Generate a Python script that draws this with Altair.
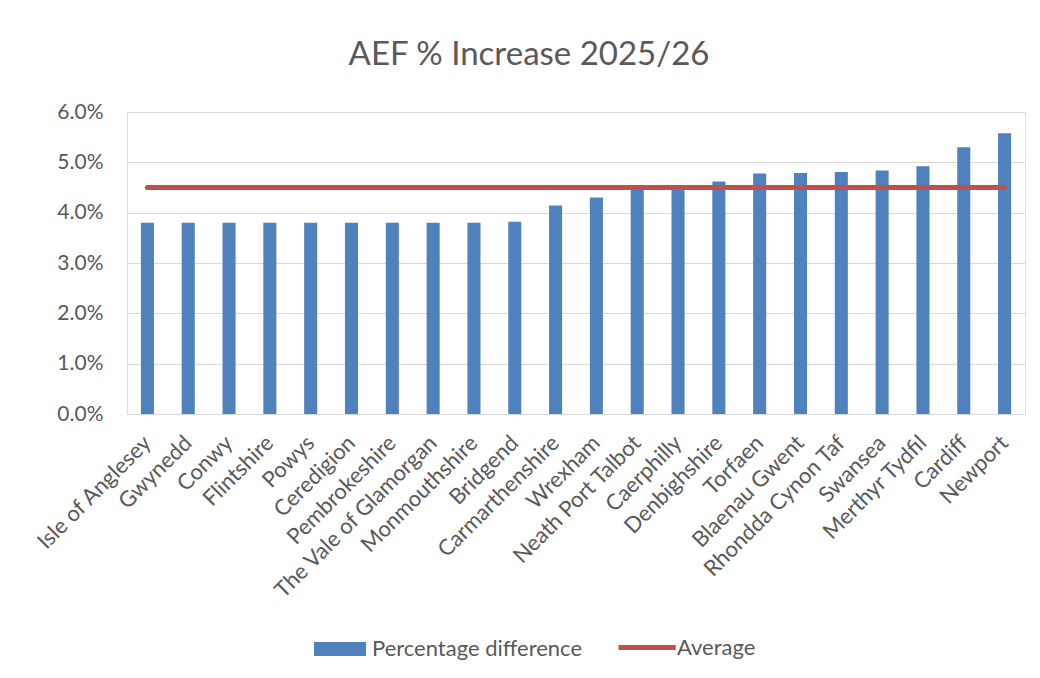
import altair as alt
import pandas as pd

# Local authorities, ordered by their AEF percentage increase
categories = [
    "Isle of Anglesey", "Gwynedd", "Conwy", "Flintshire", "Powys",
    "Ceredigion", "Pembrokeshire", "The Vale of Glamorgan", "Monmouthshire",
    "Bridgend", "Carmarthenshire", "Wrexham", "Neath Port Talbot",
    "Caerphilly", "Denbighshire", "Torfaen", "Blaenau Gwent",
    "Rhondda Cynon Taf", "Swansea", "Merthyr Tydfil", "Cardiff", "Newport",
]
pct_difference = [
    0.0380, 0.0380, 0.0380, 0.0380, 0.0380,
    0.0380, 0.0380, 0.0380, 0.0380,
    0.0382, 0.0414, 0.0430, 0.0448,
    0.0449, 0.0462, 0.0478, 0.0479,
    0.0481, 0.0484, 0.0492, 0.0530, 0.0558,
]
average = 0.045

y_ticks = [0.0, 0.01, 0.02, 0.03, 0.04, 0.05, 0.06]

BLUE = "#4F81BD"
RED = "#C0504D"
TEXT = "#595959"
GRID = "#D9D9D9"
FONT = "Lato"

df = pd.DataFrame({"Authority": categories, "Value": pct_difference})
df["Average"] = average
df["BarSeries"] = "Percentage difference"
df["LineSeries"] = "Average"

x_enc = alt.X(
    "Authority:N",
    sort=categories,
    title=None,
    scale=alt.Scale(paddingInner=0.68),
    axis=alt.Axis(
        labelAngle=-45,
        labelAlign="right",
        labelBaseline="middle",
        labelFontSize=22,
        labelColor=TEXT,
        labelFont=FONT,
        labelPadding=25,
        ticks=False,
        grid=False,
        domainColor=GRID,
        domainWidth=1,
        labelLimit=400,
    ),
)

legend_common = dict(
    title=None,
    orient="none",
    direction="horizontal",
    symbolSize=676,
    labelFontSize=22,
    labelColor=TEXT,
    labelFont=FONT,
    labelLimit=400,
    padding=0,
)

bars = alt.Chart(df).mark_bar().encode(
    x=x_enc,
    y=alt.Y(
        "Value:Q",
        title=None,
        scale=alt.Scale(domain=[0, 0.06], nice=False),
        axis=alt.Axis(
            values=y_ticks,
            format=".1%",
            labelFontSize=21,
            labelColor=TEXT,
            labelFont=FONT,
            labelPadding=24,
            ticks=False,
            domain=False,
            gridColor=GRID,
            gridWidth=1,
        ),
    ),
    color=alt.Color(
        "BarSeries:N",
        scale=alt.Scale(domain=["Percentage difference"], range=[BLUE]),
        legend=alt.Legend(
            legendX=187,
            legendY=524,
            symbolType="M-1,-0.54H3V0.54H-1Z",
            symbolStrokeWidth=0,
            symbolOpacity=1,
            labelOffset=32,
            **legend_common,
        ),
    ),
)

avg_line = alt.Chart(df).mark_line(strokeWidth=5, strokeCap="round").encode(
    x=alt.X("Authority:N", sort=categories),
    y=alt.Y("Average:Q"),
    stroke=alt.Stroke(
        "LineSeries:N",
        scale=alt.Scale(domain=["Average"], range=[RED]),
        legend=alt.Legend(
            legendX=489,
            legendY=520,
            symbolType="M-1,0H3.4",
            symbolStrokeWidth=5,
            symbolOpacity=1,
            labelOffset=30,
            **legend_common,
        ),
    ),
)

chart = (
    alt.layer(bars, avg_line)
    .resolve_legend(color="independent", stroke="independent")
    .properties(
        width=898,
        height=302,
        title=alt.TitleParams(
            "AEF % Increase 2025/26",
            fontSize=33,
            font=FONT,
            fontWeight="normal",
            color=TEXT,
            anchor="middle",
            dx=-47,
            offset=29,
        ),
        autosize=alt.AutoSizeParams(type="none"),
        padding={"left": 127, "top": 112, "right": 15, "bottom": 264},
    )
    .configure_view(strokeWidth=0)
    .configure(background="white")
)

chart.save("out.html", embed_options={"renderer": "svg", "actions": False})
